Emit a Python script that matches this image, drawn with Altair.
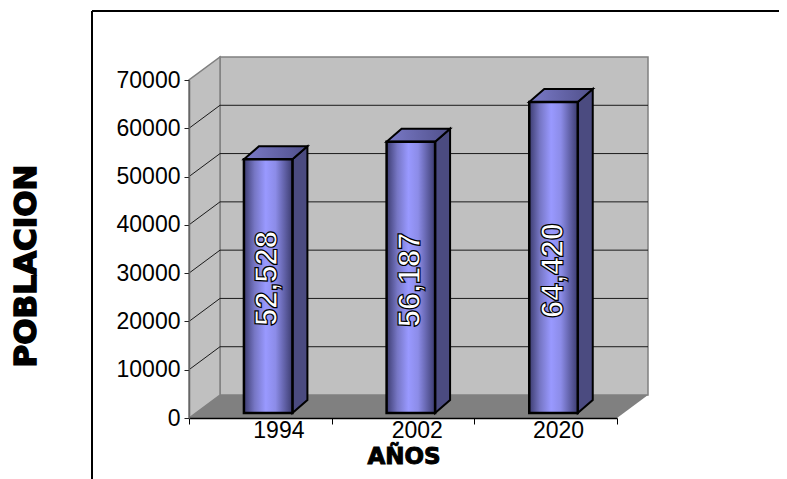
import altair as alt
import pandas as pd

# --- chart values ---
categories = ["1994", "2002", "2020"]
population = [52528, 56187, 64420]
labels = ["52,528", "56,187", "64,420"]
y_ticks = [0, 10000, 20000, 30000, 40000, 50000, 60000, 70000]
label_anchor = [29100, 28800, 30750]
category_pos = [0.63, 1.6, 2.59]

# --- 3D construction constants (in scale units) ---
YMAX = 70000
WALL_DX, WALL_DY = 0.2173, 4762
BASE_DY = 1035
BAR_LEFT, BAR_W = 0.385, 0.34
BAR_DX, BAR_DY = 0.105, 2700

FONT = "Liberation Sans"
x_s = alt.Scale(domain=[0, 3], nice=False, zero=False)
y_s = alt.Scale(domain=[0, YMAX], nice=False, zero=False)
x_axis = alt.Axis(values=[0, 1, 2, 3], labels=False, title=None, grid=False, tickSize=6,
                  tickColor="#000", domainColor="#000", domainWidth=1.5, tickWidth=1, zindex=1)
y_axis = alt.Axis(values=y_ticks, format="d", title=None, grid=False, tickSize=5, tickColor="#222",
                  domainColor="#666", domainWidth=1.5, tickWidth=1, labelFont=FONT, labelFontSize=23,
                  labelColor="#000", labelPadding=4, zindex=1)
X = lambda f="x": alt.X(f"{f}:Q", scale=x_s, axis=x_axis)
Y = lambda f="y": alt.Y(f"{f}:Q", scale=y_s, axis=y_axis)

DF = pd.DataFrame

back = alt.Chart(DF([dict(x=WALL_DX, x2=3 + WALL_DX, y=WALL_DY, y2=YMAX + WALL_DY)])).mark_rect(
    fill="#c0c0c0", stroke="#808080", strokeWidth=1.5
).encode(x=X(), x2="x2:Q", y=Y(), y2="y2:Q")

side = alt.Chart(DF([dict(x=0, y=0, y2=YMAX), dict(x=WALL_DX, y=WALL_DY, y2=YMAX + WALL_DY)])).mark_area(
    fill="#c0c0c0", stroke="#808080", strokeWidth=1.5, orient="vertical"
).encode(x=X(), y=Y(), y2="y2:Q")

floor = alt.Chart(DF([dict(y=0, x=0, x2=3), dict(y=WALL_DY, x=WALL_DX, x2=3 + WALL_DX)])).mark_area(
    fill="#808080", orient="horizontal"
).encode(y=Y(), x=X(), x2="x2:Q")

grid_back = alt.Chart(DF([dict(x=WALL_DX, x2=3 + WALL_DX, y=v + WALL_DY) for v in y_ticks[1:-1]])).mark_rule(
    color="#1a1a1a", strokeWidth=1
).encode(x=X(), x2="x2:Q", y=Y())

grid_side = alt.Chart(DF([r for v in y_ticks[1:-1] for r in (dict(v=v, x=0, y=v), dict(v=v, x=WALL_DX, y=v + WALL_DY))])).mark_line(
    color="#1a1a1a", strokeWidth=1
).encode(x=X(), y=Y(), detail="v:N")

front_fill = alt.Gradient(
    gradient="linear", x1=0, x2=1, y1=0, y2=0,
    stops=[alt.GradientStop(offset=0, color="#3c3c70"),
           alt.GradientStop(offset=0.22, color="#7676c4"),
           alt.GradientStop(offset=0.45, color="#9999ff"),
           alt.GradientStop(offset=0.65, color="#8c8ce8"),
           alt.GradientStop(offset=1, color="#3c3c70")])
top_fill = alt.Gradient(
    gradient="linear", x1=0, x2=1, y1=0, y2=0,
    stops=[alt.GradientStop(offset=0, color="#7a7ac8"),
           alt.GradientStop(offset=1, color="#50508a")])

bars = []
for i, v in enumerate(population):
    L = i + BAR_LEFT
    R = L + BAR_W
    y0 = BASE_DY
    yt = v + BASE_DY
    bars.append(alt.Chart(DF([dict(x=R, y=y0, y2=yt), dict(x=R + BAR_DX, y=y0 + BAR_DY, y2=yt + BAR_DY)])).mark_area(
        fill="#4b4b80", stroke="#000", strokeWidth=2, orient="vertical"
    ).encode(x=X(), y=Y(), y2="y2:Q"))
    bars.append(alt.Chart(DF([dict(y=yt, x=L, x2=R), dict(y=yt + BAR_DY, x=L + BAR_DX, x2=R + BAR_DX)])).mark_area(
        fill=top_fill, stroke="#000", strokeWidth=2, orient="horizontal"
    ).encode(y=Y(), x=X(), x2="x2:Q"))
    bars.append(alt.Chart(DF([dict(x=L, x2=R, y=y0, y2=yt)])).mark_rect(
        fill=front_fill, stroke="#000", strokeWidth=2.5
    ).encode(x=X(), x2="x2:Q", y=Y(), y2="y2:Q"))

data_labels = alt.Chart(DF(dict(
    x=[i + BAR_LEFT + BAR_W / 2 for i in range(3)], y=label_anchor, t=labels
))).mark_text(
    angle=270, font=FONT, fontWeight="bold", fontSize=31, fill="#fff", stroke="#000", strokeWidth=1.2,
    align="center", baseline="middle", dx=-1
).encode(x=X(), y=Y(), text="t:N")

cat_labels = alt.Chart(DF(dict(x=category_pos, y=[0, 0, 0], t=categories))).mark_text(
    font=FONT, fontSize=23, color="#000", baseline="top", dy=2
).encode(x=X(), y=Y(), text="t:N")

x_title = alt.Chart(DF(dict(x=[1.5], y=[0], t=["AÑOS"]))).mark_text(
    font="DejaVu Sans", fontWeight="bold", fontSize=23, color="#000", stroke="#000", strokeWidth=1,
    baseline="middle", dy=39, dx=1
).encode(x=X(), y=Y(), text="t:N")

y_title = alt.Chart(DF(dict(t=["POBLACION"]))).mark_text(
    font="DejaVu Sans", fontWeight="bold", fontSize=31, color="#000", stroke="#000", strokeWidth=1.5,
    angle=270, baseline="middle", align="center"
).encode(x=alt.value(-162), y=alt.value(186), text="t:N")

frame_l = alt.Chart(DF(dict(a=[0]))).mark_rule(color="#000", strokeWidth=2).encode(
    x=alt.value(-97), y=alt.value(-69), y2=alt.value(400))
frame_t = alt.Chart(DF(dict(a=[0]))).mark_rule(color="#000", strokeWidth=2).encode(
    x=alt.value(-97), x2=alt.value(610), y=alt.value(-69))

chart = alt.layer(
    back, side, floor, grid_back, grid_side, *bars, data_labels, cat_labels, x_title, y_title, frame_l, frame_t
).properties(
    width=428, height=338,
    autosize=alt.AutoSizeParams(type="none"),
    padding={"left": 181, "top": 72, "right": 162, "bottom": 61},
    background="#ffffff",
).configure_view(stroke=None)

chart.save("out.html", embed_options={"renderer": "svg", "actions": False})
